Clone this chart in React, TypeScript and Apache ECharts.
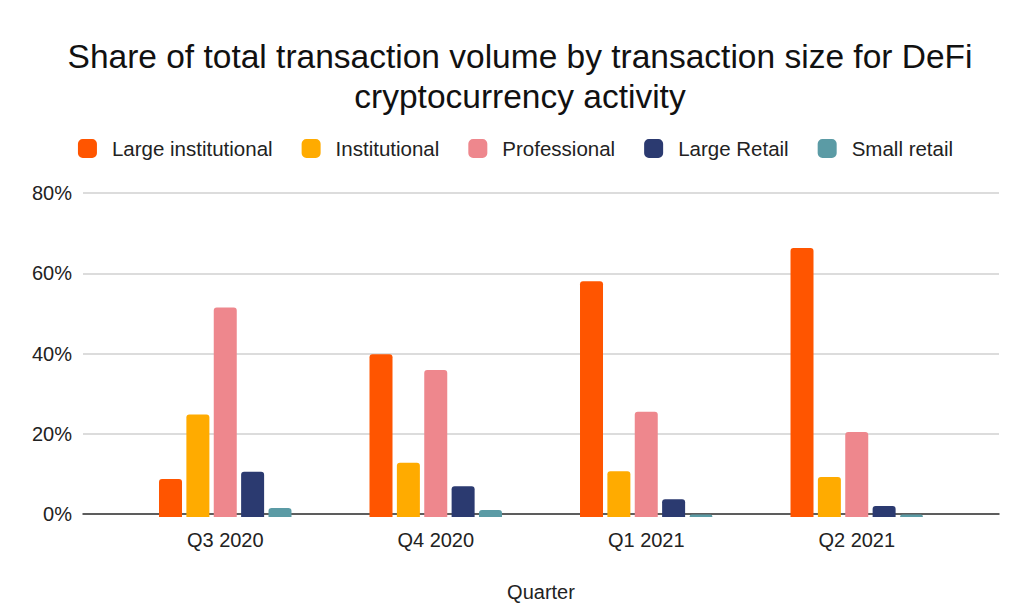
import React, { useEffect, useRef } from "react";
import * as echarts from "echarts";

const quarters = ["Q3 2020", "Q4 2020", "Q1 2021", "Q2 2021"];
const seriesNames = ["Large institutional", "Institutional", "Professional", "Large Retail", "Small retail"];
const largeInstitutional = [9.4, 40.2, 58.2, 66.4];
const institutional = [25.3, 13.4, 11.3, 9.9];
const professional = [51.7, 36.3, 26.0, 21.0];
const largeRetail = [11.2, 7.6, 4.4, 2.7];
const smallRetail = [2.2, 1.7, 0.6, 0.6];
const yTicks = [0, 20, 40, 60, 80];

const colors = ["#FF5500", "#FFAB00", "#EE878D", "#2B3A70", "#5B9BA5"];
const FONT = "'Liberation Sans', Arial, sans-serif";

const App: React.FC = () => {
    const chartRef = useRef<HTMLDivElement>(null);

    useEffect(() => {
        const chart = echarts.init(chartRef.current!, null, { renderer: "svg" });
        const values = [largeInstitutional, institutional, professional, largeRetail, smallRetail];

        chart.setOption({
            animation: false,
            backgroundColor: "#ffffff",
            color: colors,
            textStyle: { fontFamily: FONT },
            title: {
                text: "Share of total transaction volume by transaction size for DeFi\ncryptocurrency activity",
                left: 515,
                top: 31,
                textAlign: "center",
                textStyle: {
                    fontFamily: FONT,
                    fontSize: 33.5,
                    fontWeight: "normal",
                    color: "#111",
                    lineHeight: 40,
                    align: "center",
                },
            },
            legend: {
                left: "center",
                top: 133,
                itemWidth: 19,
                itemHeight: 19,
                itemGap: 29,
                icon: "roundRect",
                textStyle: {
                    fontFamily: FONT,
                    fontSize: 20.5,
                    color: "#222",
                    padding: [0, 0, 0, 10],
                },
                data: seriesNames,
            },
            grid: [
                { left: 83, right: 32, top: 193, bottom: 90 },
                { left: 120, right: 69, top: 193, bottom: 90 },
            ],
            xAxis: [
                {
                    type: "category",
                    gridIndex: 0,
                    data: [""],
                    axisLine: { show: true, lineStyle: { color: "#333", width: 1.5 } },
                    axisTick: { show: false },
                    axisLabel: { show: false },
                    name: "Quarter",
                    nameLocation: "middle",
                    nameGap: 68,
                    nameTextStyle: { fontFamily: FONT, fontSize: 20, color: "#222" },
                },
                {
                    type: "category",
                    gridIndex: 1,
                    data: quarters,
                    axisLine: { show: false },
                    axisTick: { show: false },
                    axisLabel: { fontFamily: FONT, fontSize: 20, color: "#222", margin: 13 },
                },
            ],
            yAxis: [
                {
                    type: "value",
                    gridIndex: 0,
                    min: yTicks[0],
                    max: yTicks[yTicks.length - 1],
                    interval: 20,
                    axisLine: { show: false },
                    axisTick: { show: false },
                    axisLabel: {
                        formatter: "{value}%",
                        fontFamily: FONT,
                        fontSize: 20,
                        color: "#222",
                        margin: 11,
                    },
                    splitLine: { lineStyle: { color: "#d0d0d0", width: 1.5 } },
                },
                {
                    type: "value",
                    gridIndex: 1,
                    min: yTicks[0],
                    max: yTicks[yTicks.length - 1],
                    interval: 20,
                    show: false,
                    splitLine: { show: false },
                },
            ],
            series: seriesNames.map((name, i) => ({
                name,
                type: "bar",
                xAxisIndex: 1,
                yAxisIndex: 1,
                barWidth: 23,
                barGap: "19%",
                data: values[i],
                itemStyle: { borderRadius: [3, 3, 0, 0] },
            })),
        });

        const resize = () => chart.resize();
        window.addEventListener("resize", resize);
        return () => {
            chart.dispose();
            window.removeEventListener("resize", resize);
        };
    }, []);

    return (
        <div
            ref={chartRef}
            style={{ position: "absolute", top: 0, left: 0, width: "1031px", height: "607px" }}
        />
    );
};

export default App;
